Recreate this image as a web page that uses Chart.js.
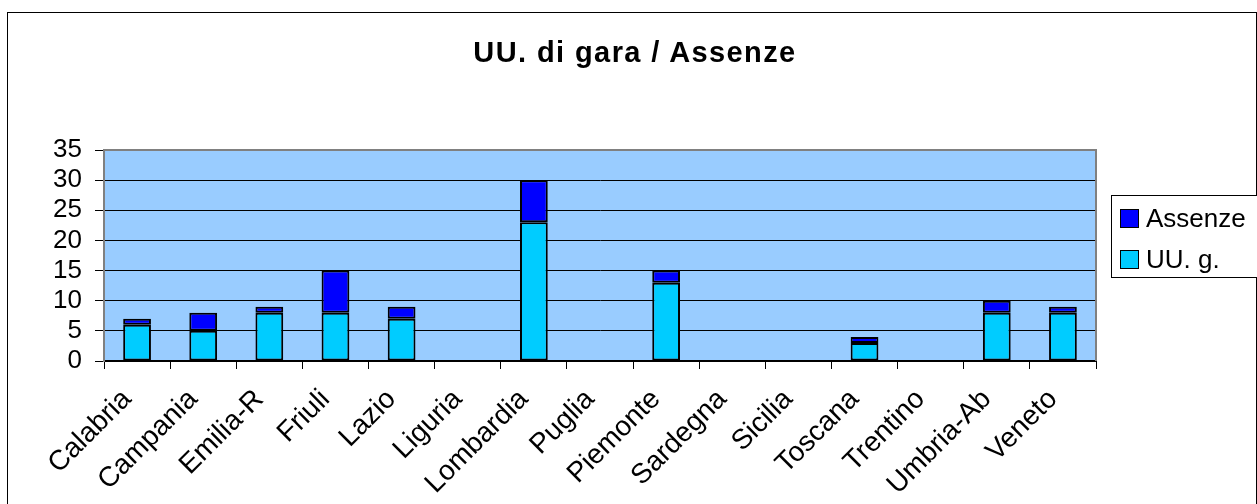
<!DOCTYPE html>
<html>
<head>
<meta charset="utf-8">
<script src="https://cdn.jsdelivr.net/npm/chart.js@4/dist/chart.umd.min.js"></script>
<style>
  body { margin: 0; background: #fff; font-family: "Liberation Sans", Arial, sans-serif; }
  #wrap { position: relative; width: 1257px; height: 504px; overflow: hidden; }
  #frame { position: absolute; left: 7px; top: 12px; width: 1248px; height: 500px; border: 1px solid #000; pointer-events: none; }
  #title { position: absolute; left: 335px; top: 38px; width: 600px; text-align: center; font-weight: bold; font-size: 29px; line-height: 29px; letter-spacing: 1.4px; }
  #legend { position: absolute; left: 1111px; top: 195px; width: 160px; height: 81px; border: 1px solid #000; background: #fff; font-size: 26px; }
  .item { position: absolute; left: 34px; height: 26px; line-height: 26px; white-space: nowrap; }
  .sq { position: absolute; left: 8px; width: 17px; height: 17px; border: 1px solid #000; }
</style>
</head>
<body>
<div id="wrap">
  <canvas id="chart" width="1257" height="504"></canvas>
  <div id="frame"></div>
  <div id="title">UU. di gara / Assenze</div>
  <div id="legend">
    <div class="sq" style="top:13px;background:#0000FF"></div>
    <div class="item" style="top:9px">Assenze</div>
    <div class="sq" style="top:54px;background:#00CCFF"></div>
    <div class="item" style="top:50px">UU. g.</div>
  </div>
</div>
<script>
//? Categories (regions)
const regioni = [
  'Calabria', 'Campania', 'Emilia-R', 'Friuli', 'Lazio', 'Liguria', 'Lombardia',
  'Puglia', 'Piemonte', 'Sardegna', 'Sicilia', 'Toscana', 'Trentino', 'Umbria-Ab', 'Veneto'
]

//? UU. di gara (bottom part of the stack)
const uuGara = [6, 5, 8, 8, 7, 0, 23, 0, 13, 0, 0, 3, 0, 8, 8]

//? Assenze (top part of the stack)
const assenze = [1, 3, 1, 7, 2, 0, 7, 0, 2, 0, 0, 1, 0, 2, 1]

//? y axis
const yMax = 35
const yStep = 5

const plotBg = {
  id: 'plotBg',
  beforeDraw(chart) {
    const { ctx, chartArea: a } = chart
    ctx.save()
    ctx.fillStyle = '#fff'
    ctx.fillRect(0, 0, chart.width, chart.height)
    ctx.fillStyle = '#99CCFF'
    ctx.fillRect(a.left, a.top, a.right - a.left, a.bottom - a.top)
    ctx.restore()
  },
  afterDatasetsDraw(chart) {
    const { ctx, chartArea: a } = chart
    ctx.save()
    ctx.strokeStyle = '#808080'
    ctx.lineWidth = 2
    ctx.beginPath()
    ctx.moveTo(a.left, a.top)
    ctx.lineTo(a.right, a.top)
    ctx.lineTo(a.right, a.bottom)
    ctx.stroke()
    ctx.restore()
  }
}

const ctx = document.getElementById('chart').getContext('2d')
const chart = new Chart(ctx, {
  type: 'bar',
  data: {
    labels: regioni,
    datasets: [
      {
        label: 'UU. g.',
        data: uuGara,
        backgroundColor: '#00CCFF',
        borderColor: '#000',
        borderWidth: 2,
        borderSkipped: false,
        barPercentage: 0.42,
        categoryPercentage: 1
      },
      {
        label: 'Assenze',
        data: assenze,
        backgroundColor: '#0000FF',
        borderColor: '#000',
        borderWidth: 2,
        borderSkipped: false,
        barPercentage: 0.42,
        categoryPercentage: 1
      }
    ]
  },
  options: {
    responsive: false,
    animation: false,
    layout: { padding: { left: 0, right: 161, top: 150, bottom: 0 } },
    plugins: {
      legend: { display: false },
      title: { display: false },
      tooltip: { enabled: false }
    },
    scales: {
      x: {
        stacked: true,
        afterFit: (s) => { s.height = 143 },
        grid: { drawOnChartArea: false, drawTicks: true, tickLength: 8, color: '#000', lineWidth: 1 },
        border: { color: '#000', width: 2 },
        ticks: {
          color: '#000',
          font: { family: 'Liberation Sans', size: 28 },
          maxRotation: 45,
          minRotation: 45,
          autoSkip: false,
          labelOffset: -10,
          padding: 14
        }
      },
      y: {
        stacked: true,
        min: 0,
        max: yMax,
        afterFit: (s) => { s.width = 104 },
        grid: { color: '#000', lineWidth: 1, drawTicks: true, tickLength: 9 },
        border: { color: '#808080', width: 2 },
        ticks: {
          stepSize: yStep,
          autoSkip: false,
          color: '#000',
          font: { family: 'Liberation Sans', size: 26 },
          padding: 13
        }
      }
    }
  },
  plugins: [plotBg]
})
</script>
</body>
</html>
